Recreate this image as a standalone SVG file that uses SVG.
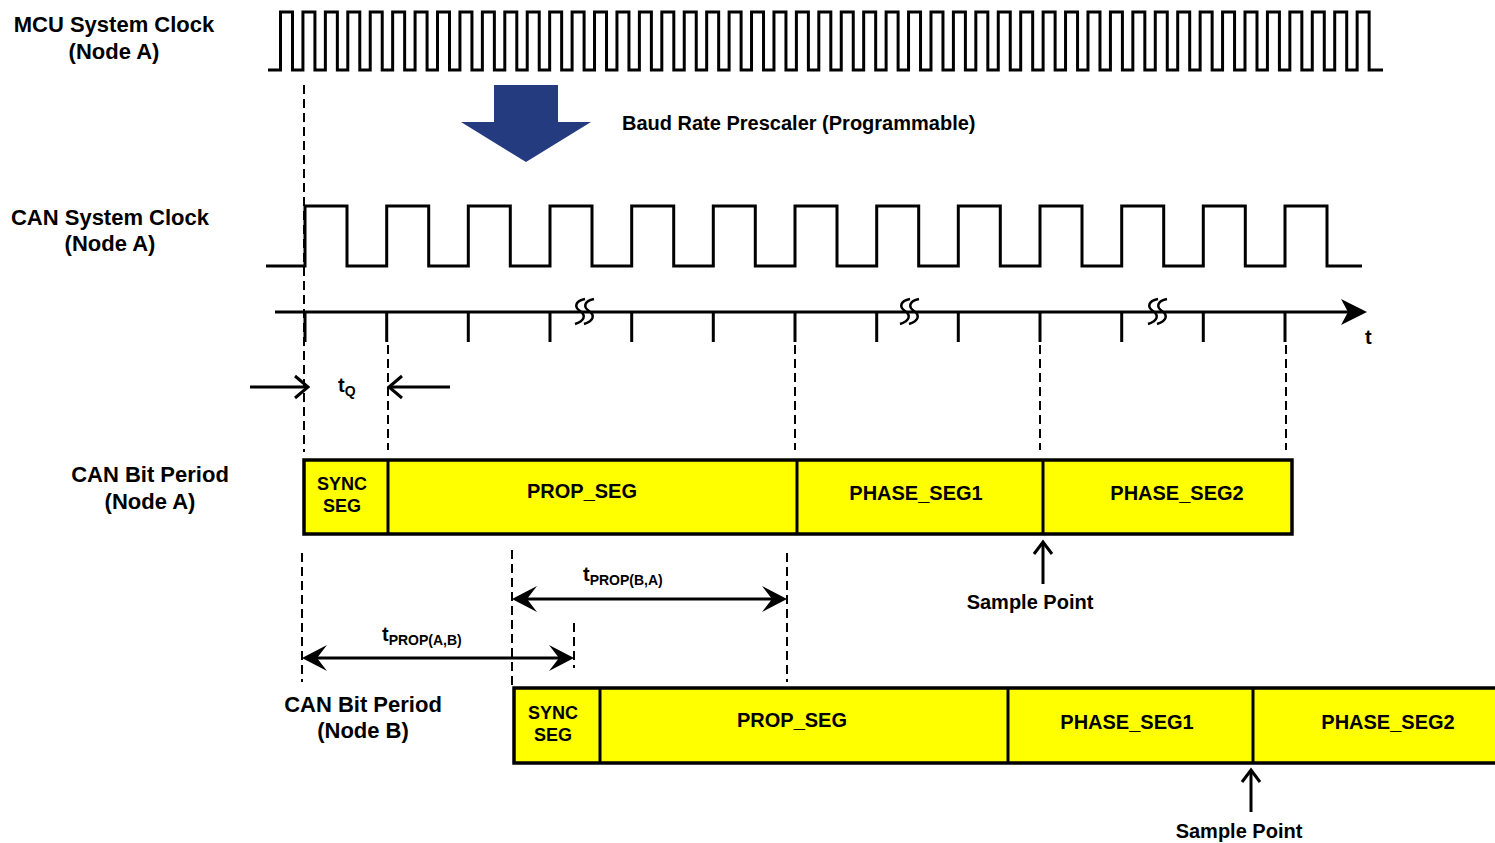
<svg xmlns="http://www.w3.org/2000/svg" width="1495" height="843" viewBox="0 0 1495 843">
<style>
text{font-family:"Liberation Sans",Arial,sans-serif;font-weight:bold;fill:#000}
.lbl{font-size:22px;text-anchor:middle}
.seg{font-size:20px;text-anchor:middle}
.sync{font-size:18px;text-anchor:middle}
.wave{fill:none;stroke:#000;stroke-width:3;stroke-linejoin:miter}
.dash{fill:none;stroke:#000;stroke-width:2;stroke-dasharray:9 5}
.ln{fill:none;stroke:#000;stroke-width:3}
.chev{fill:none;stroke:#000;stroke-width:3;stroke-linejoin:miter}
.brk{fill:none;stroke:#000;stroke-width:2.5}
.box{fill:#FFFF00;stroke:#000;stroke-width:3.5}
</style>
<rect width="1495" height="843" fill="#fff"/>
<g id="labels">
<text class="lbl" x="114" y="32">MCU System Clock</text>
<text class="lbl" x="114" y="59">(Node A)</text>
<text class="lbl" x="110" y="225">CAN System Clock</text>
<text class="lbl" x="110" y="251">(Node A)</text>
<text class="lbl" x="150" y="482">CAN Bit Period</text>
<text class="lbl" x="150" y="509">(Node A)</text>
<text class="lbl" x="363" y="712">CAN Bit Period</text>
<text class="lbl" x="363" y="738">(Node B)</text>
</g>
<g id="mcu-clock">
<path class="wave" d="M268,70 H280.5
v-58h12v58h10.43v-58h12v58h10.43v-58h12v58h10.43v-58h12v58h10.43v-58h12v58h10.43v-58h12v58h10.43v-58h12v58h10.43v-58h12v58h10.43
v-58h12v58h10.43v-58h12v58h10.43v-58h12v58h10.43v-58h12v58h10.43v-58h12v58h10.43v-58h12v58h10.43v-58h12v58h10.43v-58h12v58h10.43
v-58h12v58h10.43v-58h12v58h10.43v-58h12v58h10.43v-58h12v58h10.43v-58h12v58h10.43v-58h12v58h10.43v-58h12v58h10.43v-58h12v58h10.43
v-58h12v58h10.43v-58h12v58h10.43v-58h12v58h10.43v-58h12v58h10.43v-58h12v58h10.43v-58h12v58h10.43v-58h12v58h10.43v-58h12v58h10.43
v-58h12v58h10.43v-58h12v58h10.43v-58h12v58h10.43v-58h12v58h10.43v-58h12v58h10.43v-58h12v58h10.43v-58h12v58h10.43v-58h12v58h10.43
v-58h12v58h10.43v-58h12v58h10.43v-58h12v58h10.43v-58h12v58h10.43v-58h12v58h10.43v-58h12v58h10.43v-58h12v58h10.43v-58h12v58h10.43
v-58h12v58 H1383"/>
</g>
<g id="prescaler">
<polygon fill="#243B7F" points="494,85 558,85 558,122 591,122 526,162 461,122 494,122"/>
<text x="622" y="130" style="font-size:20px">Baud Rate Prescaler (Programmable)</text>
</g>
<g id="can-clock">
<path class="wave" d="M266,266 H305 V206 H347 V266 H386.7 V206 H428.7 V266 H468.3 V206 H510.3 V266 H550 V206 H592 V266 H631.7 V206 H673.7 V266 H713.3 V206 H755.3 V266 H795 V206 H837 V266 H876.7 V206 H918.7 V266 H958.3 V206 H1000.3 V266 H1040 V206 H1082 V266 H1121.7 V206 H1163.7 V266 H1203.3 V206 H1245.3 V266 H1285 V206 H1327 V266 H1362"/>
</g>
<g id="timeline">
<line class="ln" x1="275" y1="312" x2="1350" y2="312"/>
<polygon points="1367,312 1341,299 1348,312 1341,325" fill="#000"/>
<path class="ln" d="M305,312V342 M386.7,312V342 M468.3,312V342 M550,312V342 M631.7,312V342 M713.3,312V342 M795,312V342 M876.7,312V342 M958.3,312V342 M1040,312V342 M1121.7,312V342 M1203.3,312V342 M1285,312V342"/>
<path class="brk" d="M585,299 C575,301 574,307 580,311 C586,315 585,321 575,324 M594,299 C584,301 583,307 589,311 C595,315 594,321 584,324"/>
<path class="brk" d="M910,299 C900,301 899,307 905,311 C911,315 910,321 900,324 M919,299 C909,301 908,307 914,311 C920,315 919,321 909,324"/>
<path class="brk" d="M1158,299 C1148,301 1147,307 1153,311 C1159,315 1158,321 1148,324 M1167,299 C1157,301 1156,307 1162,311 C1168,315 1167,321 1157,324"/>
<text x="1365" y="344" style="font-size:20px">t</text>
</g>
<g id="guides">
<line class="dash" x1="304" y1="85" x2="304" y2="452"/>
<line class="dash" x1="388" y1="345" x2="388" y2="450"/>
<line class="dash" x1="795" y1="345" x2="795" y2="450"/>
<line class="dash" x1="1040" y1="345" x2="1040" y2="450"/>
<line class="dash" x1="1286" y1="345" x2="1286" y2="450"/>
<line class="dash" x1="302" y1="553" x2="302" y2="682"/>
<line class="dash" x1="512" y1="550" x2="512" y2="686"/>
<line class="dash" x1="574" y1="623" x2="574" y2="668"/>
<line class="dash" x1="787" y1="553" x2="787" y2="682"/>
</g>
<g id="tq">
<line class="ln" x1="250" y1="387" x2="307" y2="387"/>
<polyline class="chev" points="295,376 308,387 295,398"/>
<line class="ln" x1="391" y1="387" x2="450" y2="387"/>
<polyline class="chev" points="402,376 389,387 402,398"/>
<text x="338" y="392" style="font-size:20px">t<tspan style="font-size:14px" dy="4">Q</tspan></text>
</g>
<g id="bit-period-a">
<rect class="box" x="304" y="460" width="988" height="74"/>
<line class="ln" x1="388" y1="460" x2="388" y2="534"/>
<line class="ln" x1="797" y1="460" x2="797" y2="534"/>
<line class="ln" x1="1043" y1="460" x2="1043" y2="534"/>
<text class="sync" x="342" y="490">SYNC</text>
<text class="sync" x="342" y="512">SEG</text>
<text class="seg" x="582" y="498">PROP_SEG</text>
<text class="seg" x="916" y="500">PHASE_SEG1</text>
<text class="seg" x="1177" y="500">PHASE_SEG2</text>
</g>
<g id="sample-a">
<line class="ln" x1="1043" y1="584" x2="1043" y2="542"/>
<polyline class="chev" points="1034,554 1043,542 1052,554"/>
<text class="seg" x="1030" y="609">Sample Point</text>
</g>
<g id="tprop-ba">
<line class="ln" x1="520" y1="599" x2="779" y2="599"/>
<polygon points="512,599 537,586 527,599 537,612" fill="#000"/>
<polygon points="787,599 762,586 772,599 762,612" fill="#000"/>
<text x="583" y="581" style="font-size:20px">t<tspan style="font-size:14px" dy="4">PROP(B,A)</tspan></text>
</g>
<g id="tprop-ab">
<line class="ln" x1="310" y1="658" x2="566" y2="658"/>
<polygon points="302,658 327,645 317,658 327,671" fill="#000"/>
<polygon points="574,658 549,645 559,658 549,671" fill="#000"/>
<text x="382" y="641" style="font-size:20px">t<tspan style="font-size:14px" dy="4">PROP(A,B)</tspan></text>
</g>
<g id="bit-period-b">
<rect class="box" x="514" y="688" width="990" height="75"/>
<line class="ln" x1="600" y1="688" x2="600" y2="763"/>
<line class="ln" x1="1008" y1="688" x2="1008" y2="763"/>
<line class="ln" x1="1253" y1="688" x2="1253" y2="763"/>
<text class="sync" x="553" y="719">SYNC</text>
<text class="sync" x="553" y="741">SEG</text>
<text class="seg" x="792" y="727">PROP_SEG</text>
<text class="seg" x="1127" y="729">PHASE_SEG1</text>
<text class="seg" x="1388" y="729">PHASE_SEG2</text>
</g>
<g id="sample-b">
<line class="ln" x1="1251" y1="812" x2="1251" y2="770"/>
<polyline class="chev" points="1242,782 1251,770 1260,782"/>
<text class="seg" x="1239" y="838">Sample Point</text>
</g>
</svg>
